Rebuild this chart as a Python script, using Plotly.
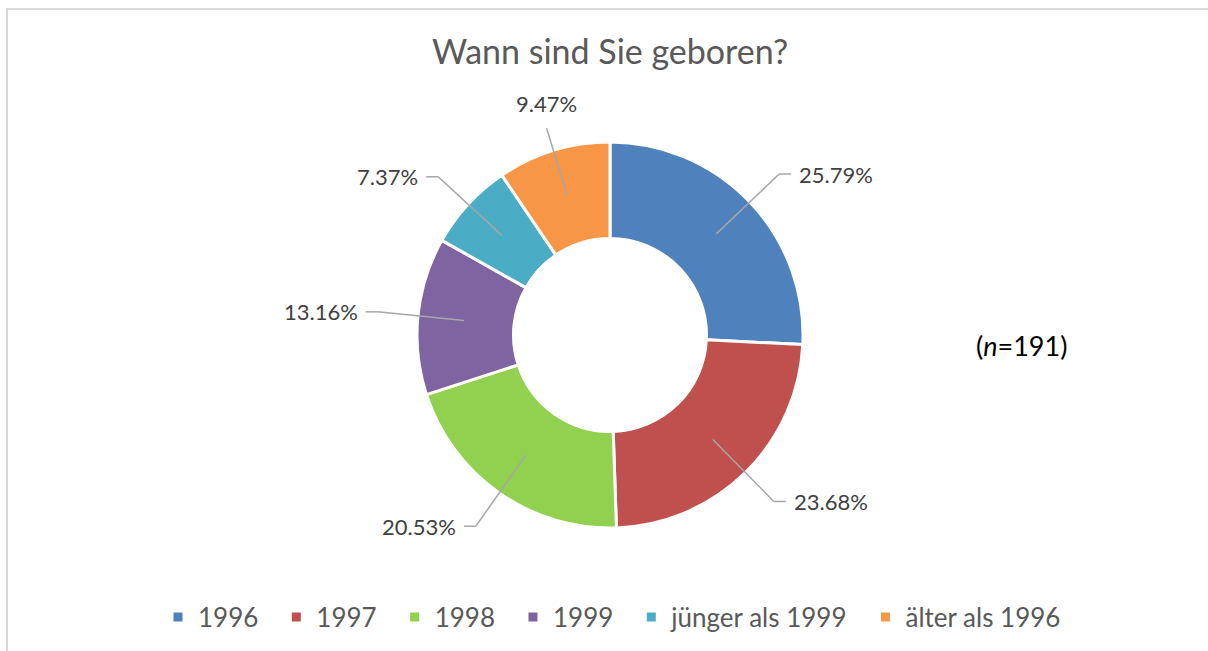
import numpy as np
import plotly.graph_objects as go

# ---- data ----
categories = ["1996", "1997", "1998", "1999", "jünger als 1999", "älter als 1996"]
shares = [25.79, 23.68, 20.53, 13.16, 7.37, 9.47]
pct_labels = ["25.79%", "23.68%", "20.53%", "13.16%", "7.37%", "9.47%"]
colors = ["#4F81BD", "#C0504D", "#92D050", "#8064A2", "#4BACC6", "#F79646"]
title_text = "Wann sind Sie geboren?"
n_text = "(<i>n</i>=191)"

# ---- layout geometry (pixels) ----
W, H = 1208, 651
cx, cy, R = 610, 335, 193
hole = 0.5
FONT = "Lato"


def px(x):
    return x / W


def py(y):
    return 1 - y / H


fig = go.Figure(
    go.Pie(
        labels=[c + "\u2002" for c in categories],
        values=shares,
        sort=False,
        direction="clockwise",
        rotation=0,
        hole=hole,
        marker=dict(colors=colors, line=dict(color="white", width=3)),
        textinfo="none",
        hoverinfo="label+percent",
        domain=dict(x=[px(cx - R), px(cx + R)], y=[py(cy + R), py(cy - R)]),
    )
)

# ---- data labels with leader lines, positioned from the slice angles ----
total = sum(shares)
cum = 0.0
r_start = R * 0.76
r_elbow = R * 1.21
r_top = R * 1.12
shapes = []
annotations = []
line_style = dict(color="#A6A6A6", width=1.5)
for v, lab in zip(shares, pct_labels):
    a = 2 * np.pi * (cum + v / 2) / total
    cum += v
    s, c = np.sin(a), np.cos(a)
    x0, y0 = cx + r_start * s, cy - r_start * c
    if abs(s) < 0.4:
        x1, y1 = cx + r_top * s, cy - r_top * c
        shapes.append(dict(type="line", xref="paper", yref="paper",
                           x0=px(x0), y0=py(y0), x1=px(x1), y1=py(y1), line=line_style))
        annotations.append(dict(x=px(x1), y=py(y1 - 9), xref="paper", yref="paper",
                                text=lab, showarrow=False, xanchor="center", yanchor="bottom",
                                font=dict(family=FONT, size=22, color="#404040")))
    else:
        x1, y1 = cx + r_elbow * s, cy - r_elbow * c
        shapes.append(dict(type="line", xref="paper", yref="paper",
                           x0=px(x0), y0=py(y0), x1=px(x1), y1=py(y1), line=line_style))
        d = 1 if s > 0 else -1
        x2 = x1 + d * 12
        shapes.append(dict(type="line", xref="paper", yref="paper",
                           x0=px(x1), y0=py(y1), x1=px(x2), y1=py(y1), line=line_style))
        annotations.append(dict(x=px(x2 + d * 6), y=py(y1), xref="paper", yref="paper",
                                text=lab, showarrow=False,
                                xanchor="left" if d > 0 else "right", yanchor="middle",
                                font=dict(family=FONT, size=22, color="#404040")))

annotations.append(dict(x=px(1021), y=py(345), xref="paper", yref="paper",
                        text=n_text, showarrow=False, xanchor="center", yanchor="middle",
                        font=dict(family=FONT, size=27, color="#000000")))

# chart frame
shapes.append(dict(type="rect", xref="paper", yref="paper",
                   x0=px(7), y0=-0.05, x1=1.05, y1=py(9),
                   line=dict(color="#D9D9D9", width=2)))

fig.update_layout(
    width=W, height=H,
    margin=dict(l=0, r=0, t=0, b=0),
    paper_bgcolor="white", plot_bgcolor="white",
    title=dict(text=title_text, x=0.505, xanchor="center", y=py(52), yanchor="middle",
               font=dict(family=FONT, size=34, color="#595959")),
    showlegend=True,
    legend=dict(orientation="h", x=0.512, xanchor="center", y=py(617), yanchor="middle",
                font=dict(family=FONT, size=26, color="#595959"),
                traceorder="normal"),
    shapes=shapes,
    annotations=annotations,
)

fig.write_html("out.html", config={"displayModeBar": False},
               post_script="document.body.style.margin='0';")
